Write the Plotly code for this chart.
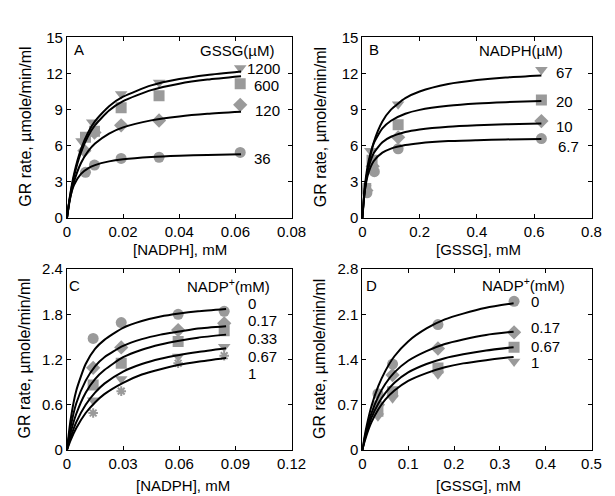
import plotly.graph_objects as go

W, H = 615, 496
GRAY = "#9a9a9a"
FONT = "Liberation Sans, Arial, sans-serif"

# ---------------- Panel A: rate vs [NADPH], different GSSG ----------------
A_series = ["36", "120", "600", "1200"]
A_symbols = ["circle", "diamond", "square", "triangle-down"]
A_pts_x = {
    "36":   [0.0066, 0.0098, 0.0193, 0.0328, 0.0617],
    "120":  [0.0062, 0.0098, 0.0193, 0.0328, 0.0617],
    "600":  [0.0066, 0.0098, 0.0193, 0.0328, 0.0617],
    "1200": [0.0052, 0.0090, 0.0193, 0.0328, 0.0617],
}
A_pts_y = {
    "36":   [3.80, 4.40, 4.95, 5.05, 5.45],
    "120":  [5.60, 7.10, 7.70, 8.10, 9.40],
    "600":  [6.70, 7.20, 9.15, 10.15, 11.15],
    "1200": [6.40, 7.95, 10.30, 11.25, 12.45],
}
A_curve_x = [0, 0.001, 0.0025, 0.005, 0.0075, 0.01, 0.015, 0.02, 0.03, 0.04, 0.05, 0.062]
A_curve_y = {
    "36":   [0, 1.57, 2.75, 3.67, 4.13, 4.40, 4.71, 4.89, 5.08, 5.18, 5.24, 5.29],
    "120":  [0, 1.48, 3.00, 4.57, 5.54, 6.19, 7.02, 7.53, 8.11, 8.44, 8.65, 8.82],
    "600":  [0, 1.64, 3.45, 5.46, 6.78, 7.71, 8.93, 9.70, 10.62, 11.15, 11.49, 11.77],
    "1200": [0, 1.73, 3.63, 5.72, 7.08, 8.04, 9.29, 10.07, 11.01, 11.54, 11.88, 12.17],
}

# ---------------- Panel B: rate vs [GSSG], different NADPH ----------------
B_series = ["6.7", "10", "20", "67"]
B_symbols = ["circle", "diamond", "square", "triangle-down"]
B_pts_x = {
    "6.7": [0.016, 0.042, 0.125, 0.625],
    "10":  [0.014, 0.036, 0.125, 0.625],
    "20":  [0.012, 0.034, 0.125, 0.625],
    "67":  [0.010, 0.028, 0.125, 0.625],
}
B_pts_y = {
    "6.7": [2.10, 3.85, 5.75, 6.60],
    "10":  [2.30, 4.30, 6.70, 8.05],
    "20":  [2.45, 4.80, 7.75, 9.80],
    "67":  [2.50, 5.60, 9.45, 12.30],
}
B_curve_x = [0, 0.005, 0.01, 0.02, 0.04, 0.07, 0.1, 0.15, 0.2, 0.3, 0.4, 0.5, 0.625]
B_curve_y = {
    "6.7": [0, 1.53, 2.50, 3.65, 4.74, 5.43, 5.77, 6.06, 6.22, 6.39, 6.47, 6.53, 6.57],
    "10":  [0, 1.62, 2.70, 4.05, 5.40, 6.30, 6.75, 7.15, 7.36, 7.59, 7.71, 7.79, 7.85],
    "20":  [0, 1.68, 2.89, 4.49, 6.22, 7.44, 8.08, 8.66, 8.98, 9.32, 9.51, 9.62, 9.71],
    "67":  [0, 1.40, 2.52, 4.20, 6.30, 8.02, 9.00, 9.95, 10.50, 11.12, 11.45, 11.67, 11.84],
}

# ---------------- Panel C: rate vs [NADPH], different NADP+ ----------------
C_series = ["0", "0.17", "0.33", "0.67", "1"]
C_symbols = ["circle", "diamond", "square", "triangle-down", "asterisk-open"]
C_pts_x = [0.0140, 0.0290, 0.0594, 0.0840]
C_pts_y = {
    "0":    [1.48, 1.69, 1.80, 1.84],
    "0.17": [1.09, 1.36, 1.59, 1.68],
    "0.33": [0.86, 1.15, 1.44, 1.58],
    "0.67": [0.66, 0.94, 1.24, 1.37],
    "1":    [0.49, 0.78, 1.15, 1.25],
}
C_curve_x = [0, 0.002, 0.005, 0.01, 0.015, 0.02, 0.03, 0.04, 0.05, 0.06, 0.07, 0.085]
C_curve_y = {
    "0":    [0, 0.41, 0.79, 1.14, 1.34, 1.46, 1.62, 1.71, 1.77, 1.81, 1.84, 1.87],
    "0.17": [0, 0.31, 0.62, 0.92, 1.11, 1.23, 1.38, 1.47, 1.53, 1.57, 1.61, 1.64],
    "0.33": [0, 0.23, 0.48, 0.76, 0.94, 1.06, 1.23, 1.33, 1.40, 1.45, 1.49, 1.53],
    "0.67": [0, 0.17, 0.37, 0.60, 0.76, 0.88, 1.04, 1.14, 1.21, 1.26, 1.30, 1.35],
    "1":    [0, 0.13, 0.29, 0.49, 0.63, 0.74, 0.89, 1.00, 1.07, 1.13, 1.17, 1.22],
}

# ---------------- Panel D: rate vs [GSSG], different NADP+ ----------------
D_series = ["0", "0.17", "0.67", "1"]
D_symbols = ["circle", "diamond", "square", "triangle-down"]
D_pts_x = [0.034, 0.066, 0.165, 0.331]
D_pts_y = {
    "0":    [0.87, 1.33, 1.94, 2.30],
    "0.17": [0.70, 1.16, 1.57, 1.82],
    "0.67": [0.60, 0.90, 1.27, 1.59],
    "1":    [0.52, 0.80, 1.17, 1.37],
}
D_curve_x = [0, 0.005, 0.01, 0.02, 0.035, 0.05, 0.07, 0.1, 0.14, 0.18, 0.22, 0.27, 0.33]
D_curve_y = {
    "0":    [0, 0.21, 0.39, 0.68, 0.99, 1.22, 1.45, 1.68, 1.88, 2.02, 2.11, 2.20, 2.27],
    "0.17": [0, 0.18, 0.33, 0.57, 0.83, 1.02, 1.20, 1.38, 1.53, 1.64, 1.71, 1.78, 1.83],
    "0.67": [0, 0.155, 0.29, 0.50, 0.72, 0.88, 1.04, 1.20, 1.33, 1.42, 1.48, 1.54, 1.59],
    "1":    [0, 0.13, 0.245, 0.43, 0.63, 0.78, 0.92, 1.07, 1.19, 1.28, 1.34, 1.39, 1.44],
}

fig = go.Figure()


def add_panel(xa, ya, series, symbols, px, py, cx, cy):
    for s, sym in zip(series, symbols):
        xs = px[s] if isinstance(px, dict) else px
        is_ast = sym.startswith("asterisk")
        fig.add_trace(go.Scatter(
            x=xs, y=py[s], mode="markers", xaxis=xa, yaxis=ya, showlegend=False,
            marker=dict(symbol=sym, size=8 if is_ast else 11, color=GRAY,
                        line=dict(color=GRAY, width=2 if is_ast else 0)),
        ))
    for s in series:
        fig.add_trace(go.Scatter(
            x=cx, y=cy[s], mode="lines", xaxis=xa, yaxis=ya, showlegend=False,
            line=dict(color="black", width=2, shape="spline", smoothing=0.6),
        ))


add_panel("x", "y", A_series, A_symbols, A_pts_x, A_pts_y, A_curve_x, A_curve_y)
add_panel("x2", "y2", B_series, B_symbols, B_pts_x, B_pts_y, B_curve_x, B_curve_y)
add_panel("x3", "y3", C_series, C_symbols, C_pts_x, C_pts_y, C_curve_x, C_curve_y)
add_panel("x4", "y4", D_series, D_symbols, D_pts_x, D_pts_y, D_curve_x, D_curve_y)


def px2x(p):
    return p / W


def px2y(p):
    return 1 - p / H


ax_common = dict(showline=True, linecolor="black", linewidth=1, mirror="ticks",
                 ticks="inside", ticklen=4, tickwidth=1, tickcolor="black",
                 showgrid=False, zeroline=False,
                 tickfont=dict(family=FONT, size=15, color="black"))

xdomL = [px2x(56.7), px2x(288.5)]
xdomR = [px2x(361.5), px2x(598)]
ydomT = [px2y(208.3), px2y(21)]
ydomB = [px2y(448.3), px2y(261)]

A_xticks = [0, 0.02, 0.04, 0.06, 0.08]
A_yticks = [0, 3, 6, 9, 12, 15]
B_xticks = [0, 0.2, 0.4, 0.6, 0.8]
C_xticks = [0, 0.03, 0.06, 0.09, 0.12]
C_yticks = [0, 0.6, 1.2, 1.8, 2.4]
D_xticks = [0, 0.1, 0.2, 0.3, 0.4, 0.5]
D_yticks = [0, 0.7, 1.4, 2.1, 2.8]


def tt(vals):
    return ["0" if v == 0 else ("%g" % v) for v in vals]


fig.update_layout(
    width=W, height=H, margin=dict(l=0, r=0, t=0, b=0),
    paper_bgcolor="white", plot_bgcolor="white",
    font=dict(family=FONT, size=15, color="black"),
    xaxis=dict(domain=xdomL, anchor="y", range=[0, 0.08], tickvals=A_xticks, ticktext=tt(A_xticks), **ax_common),
    yaxis=dict(domain=ydomT, anchor="x", range=[0, 15], tickvals=A_yticks, ticktext=tt(A_yticks), **ax_common),
    xaxis2=dict(domain=xdomR, anchor="y2", range=[0, 0.8], tickvals=B_xticks, ticktext=tt(B_xticks), **ax_common),
    yaxis2=dict(domain=ydomT, anchor="x2", range=[0, 15], tickvals=A_yticks, ticktext=tt(A_yticks), **ax_common),
    xaxis3=dict(domain=xdomL, anchor="y3", range=[0, 0.12], tickvals=C_xticks, ticktext=tt(C_xticks), **ax_common),
    yaxis3=dict(domain=ydomB, anchor="x3", range=[0, 2.4], tickvals=C_yticks, ticktext=tt(C_yticks), **ax_common),
    xaxis4=dict(domain=xdomR, anchor="y4", range=[0, 0.5], tickvals=D_xticks, ticktext=tt(D_xticks), **ax_common),
    yaxis4=dict(domain=ydomB, anchor="x4", range=[0, 2.8], tickvals=D_yticks, ticktext=tt(D_yticks), **ax_common),
)

annots = []


def txt(x, y, s, size=15, xanchor="center", angle=0):
    annots.append(dict(x=px2x(x), y=px2y(y), xref="paper", yref="paper", text=s,
                       showarrow=False, xanchor=xanchor, yanchor="middle", textangle=angle,
                       borderpad=0, font=dict(family=FONT, size=size, color="black")))


# axis titles
ytitle = "GR rate, \u00b5mole/min/ml"
txt(13, 114, ytitle, size=16, angle=-90)
txt(318, 114, ytitle, size=16, angle=-90)
txt(13, 354, ytitle, size=16, angle=-90)
txt(318, 354, ytitle, size=16, angle=-90)
txt(173, 241, "[NADPH], mM", size=15)
txt(481, 241, "[GSSG], mM", size=15)
txt(176, 485, "[NADPH], mM", size=15)
txt(481, 485, "[GSSG], mM", size=15)

# panel letters
txt(63, 34, "A", size=15, xanchor="left")
txt(367, 34, "B", size=15, xanchor="left")
txt(58, 278, "C", size=15, xanchor="left")
txt(364, 278, "D", size=15, xanchor="left")

# panel A labels
txt(232, 35, "GSSG(\u00b5M)", size=15)
for s, (x, y) in zip(A_series, [(258.5, 147), (264, 97), (263, 71), (260, 53)]):
    txt(x, y, s)

# panel B labels
txt(525, 35, "NADPH(\u00b5M)", size=15)
for s, (x, y) in zip(B_series, [(574.5, 134), (570.5, 113), (570.5, 88), (570.5, 57)]):
    txt(x, y, s)

# panel C labels
txt(223, 278, "NADP<sup>+</sup>(mM)", size=15)
for s, y in zip(C_series, [297, 314, 333, 352, 369]):
    txt(242, y, s, xanchor="left")

# panel D labels
txt(528, 277, "NADP<sup>+</sup>(mM)", size=15)
for s, y in zip(D_series, [295, 322, 341, 358]):
    txt(535, y, s, xanchor="left")

fig.update_layout(annotations=annots)
fig.write_html("out.html")
